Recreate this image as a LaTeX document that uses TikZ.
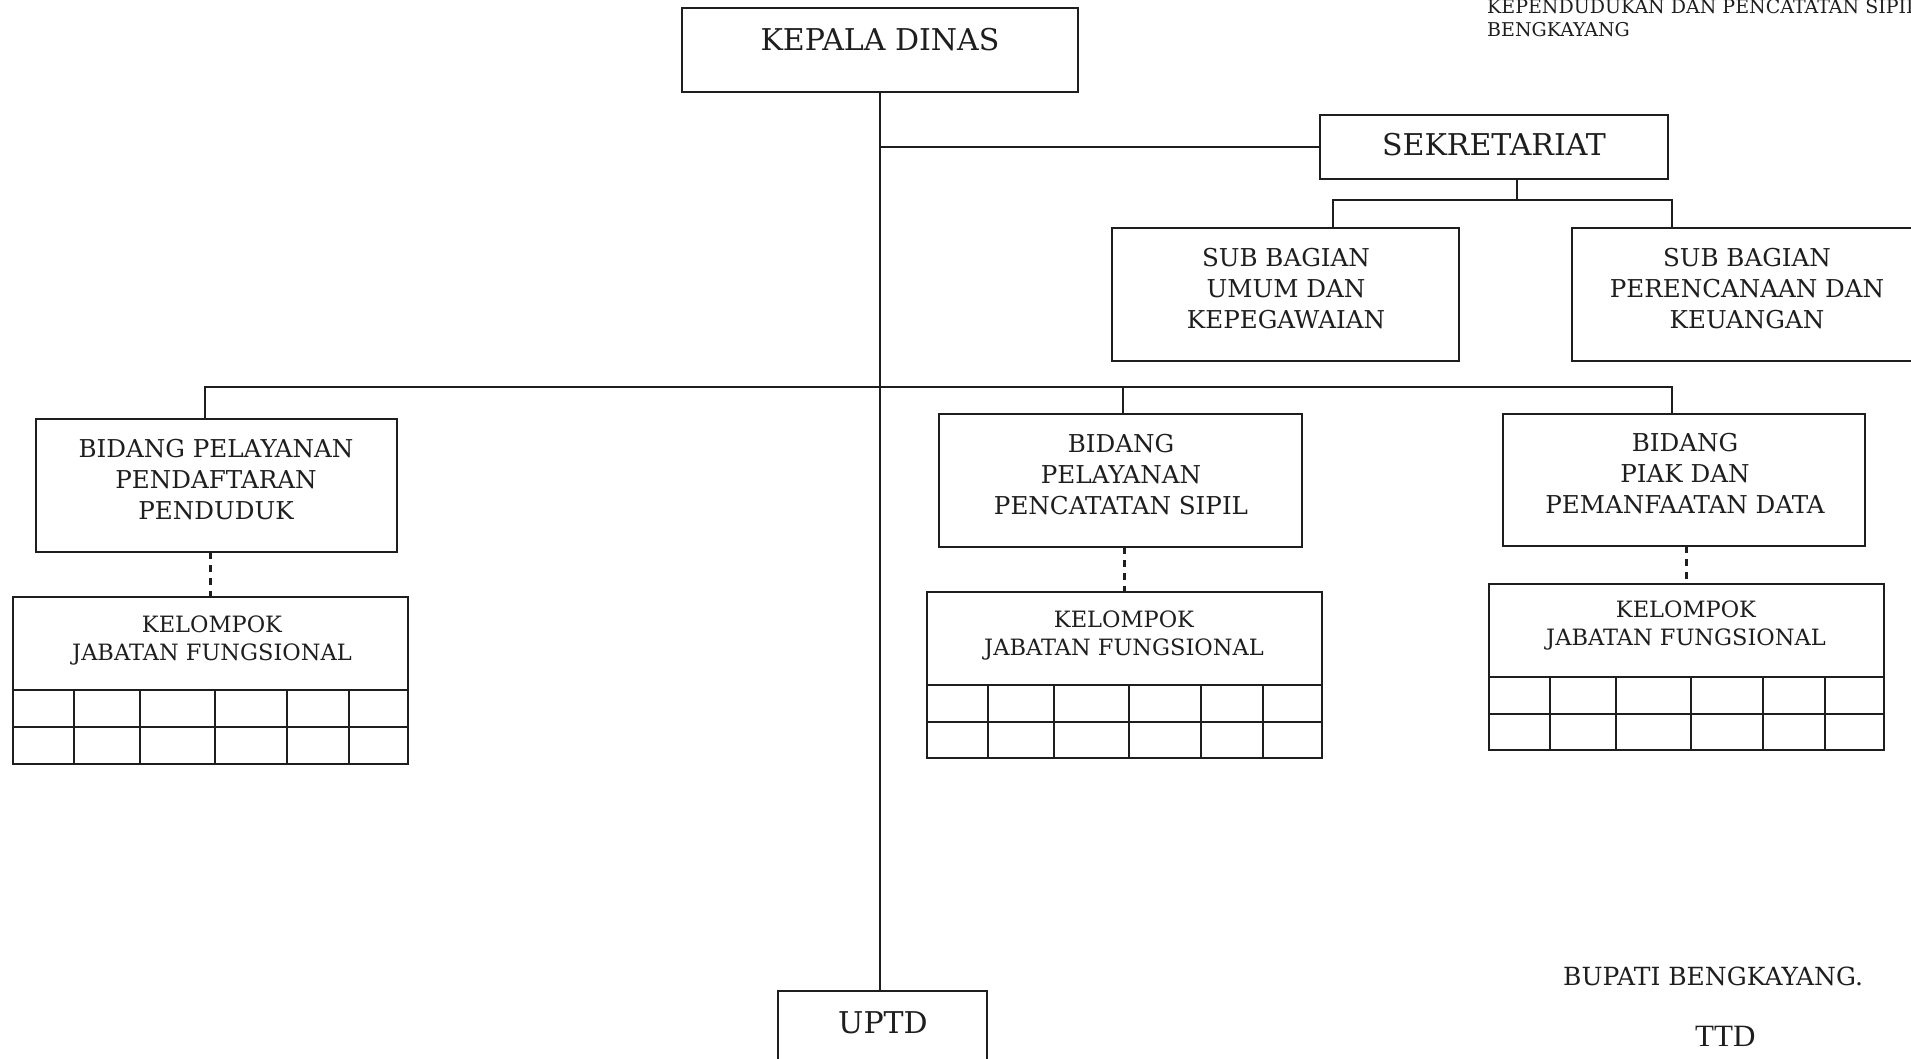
\documentclass[tikz,border=0pt]{standalone}
\usepackage{fontspec}
\setmainfont{DejaVu Serif}
\newfontfamily\ttdfont{Liberation Serif}
\definecolor{ink}{HTML}{1E1E1E}
\tikzset{
  box/.style={draw=ink, line width=2.6pt, inner sep=0pt, outer sep=0pt},
  conn/.style={draw=ink, line width=2.4pt},
  gridline/.style={draw=ink, line width=2.2pt},
  dashconn/.style={draw=ink, line width=2.2pt, dash pattern=on 7pt off 6pt},
  bigtxt/.style={inner sep=0pt, anchor=north, text=ink, font=\fontsize{30}{36}\selectfont},
  midtxt/.style={inner sep=0pt, anchor=north, align=center, text=ink, font=\fontsize{24.6}{31}\selectfont},
  kjtxt/.style={inner sep=0pt, anchor=north, align=center, text=ink, font=\fontsize{22.5}{28}\selectfont},
  plaintxt/.style={inner sep=0pt, text=ink},
}
\begin{document}
\begin{tikzpicture}[x=1pt,y=-1pt]
\fill[white] (0,0) rectangle (1911,1058);
\useasboundingbox (0,0) rectangle (1911,1058);

% header text (cut at top)
\node[plaintxt, anchor=north west, align=left, font=\fontsize{19}{23}\selectfont] (hdr) at (1487,-0.9) {KEPENDUDUKAN DAN PENCATATAN SIPIL\\BENGKAYANG};

% main boxes
\node[box, minimum width=396pt, minimum height=84pt] (kd) at (880,50) {};
\node[bigtxt] (kdt) at (880,28) {KEPALA DINAS};

\node[box, minimum width=348pt, minimum height=64pt] (sek) at (1494,147) {};
\node[bigtxt] (sekt) at (1494,133.5) {SEKRETARIAT};

\node[box, minimum width=347pt, minimum height=133pt] (sub1) at (1285.5,294.5) {};
\node[midtxt] (sub1t) at (1286,248) {SUB BAGIAN\\UMUM DAN\\KEPEGAWAIAN};

\node[box, minimum width=350pt, minimum height=133pt] (sub2) at (1747,294.5) {};
\node[midtxt] (sub2t) at (1747,248) {SUB BAGIAN\\PERENCANAAN DAN\\KEUANGAN};

\node[box, minimum width=361pt, minimum height=133pt] (b1) at (216.5,485.5) {};
\node[midtxt] (b1t) at (216,439) {BIDANG PELAYANAN\\PENDAFTARAN\\PENDUDUK};

\node[box, minimum width=363pt, minimum height=133pt] (b2) at (1120.5,480.5) {};
\node[midtxt] (b2t) at (1121,434) {BIDANG\\PELAYANAN\\PENCATATAN SIPIL};

\node[box, minimum width=362pt, minimum height=132pt] (b3) at (1684,480) {};
\node[midtxt] (b3t) at (1685,433) {BIDANG\\PIAK DAN\\PEMANFAATAN DATA};

% kelompok jabatan fungsional
\node[box, minimum width=395pt, minimum height=167pt] (k1) at (210.5,680.5) {};
\node[kjtxt] (k1t) at (212,615.6) {KELOMPOK\\JABATAN FUNGSIONAL};
\node[box, minimum width=395pt, minimum height=166pt] (k2) at (1124.5,675) {};
\node[kjtxt] (k2t) at (1124,610.6) {KELOMPOK\\JABATAN FUNGSIONAL};
\node[box, minimum width=395pt, minimum height=166pt] (k3) at (1686.5,667) {};
\node[kjtxt] (k3t) at (1686,600.6) {KELOMPOK\\JABATAN FUNGSIONAL};

\foreach \k in {k1,k2,k3}{
  \draw[gridline] ([yshift=-93pt]\k.north west) -- ([yshift=-93pt]\k.north east);
  \draw[gridline] ([yshift=-130pt]\k.north west) -- ([yshift=-130pt]\k.north east);
  \foreach \c in {61,127,202,274,336}
    \draw[gridline] ([xshift=\c pt,yshift=-93pt]\k.north west) -- ([xshift=\c pt]\k.south west);
}

% UPTD
\node[box, minimum width=209pt, minimum height=84pt] (uptd) at (882.5,1033) {};
\node[bigtxt] (uptdt) at (883,1011) {UPTD};

% connectors
\draw[conn] (kd.south) -- (kd.south |- uptd.north);
\draw[conn] (kd.south |- sek.west) -- (sek.west);

\coordinate (sj) at (1517,200);
\coordinate (s1) at (1333,200);
\coordinate (s2) at (1672,200);
\draw[conn] (sek.south -| sj) -- (sj);
\draw[conn] (s1 |- sub1.north) -- (s1) -- (s2) -- (s2 |- sub2.north);

\coordinate (busL) at (205,387);
\coordinate (bus2) at (1123,387);
\coordinate (busR) at (1672,387);
\draw[conn] (busL |- b1.north) -- (busL) -- (busR) -- (busR |- b3.north);
\draw[conn] (bus2) -- (bus2 |- b2.north);

\draw[dashconn] (k1.north |- b1.south) -- (k1.north);
\draw[dashconn] (k2.north |- b2.south) -- (k2.north);
\draw[dashconn] (k3.north |- b3.south) -- (k3.north);

% signature block
\node[plaintxt, anchor=base west, font=\fontsize{25}{30}\selectfont] (bup) at (1563,985) {BUPATI BENGKAYANG.};
\node[plaintxt, anchor=base west, font=\ttdfont\fontsize{31}{36}\selectfont] (ttd) at (1695,1046) {TTD};
\end{tikzpicture}
\end{document}
